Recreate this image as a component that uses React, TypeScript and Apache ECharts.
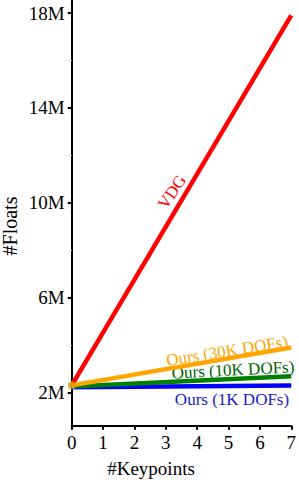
import React, { useEffect, useRef } from "react";
import * as echarts from "echarts";

const keypoints = [0, 7];
const vdg = [2.3, 17.9];
const ours30k = [2.3, 3.9];
const ours10k = [2.25, 2.68];
const ours1k = [2.22, 2.3];
const originDot = [0, 2.3];
const yTicks = [2, 6, 10, 14, 18];
const yMinorTicks = [4, 8, 12, 16];
const yMin = 0.6;
const yMax = 18.55;
const xMin = 0;
const xMax = 7;

const FONT = "'Liberation Serif', 'Times New Roman', serif";

const pairs = (ys: number[]) => keypoints.map((x, i) => [x, ys[i]]);

const txt = (
  text: string,
  x: number,
  y: number,
  size: number,
  fill: string,
  rotDeg = 0
) => ({
  type: "text",
  x,
  y,
  rotation: (rotDeg * Math.PI) / 180,
  style: {
    text,
    fontFamily: FONT,
    fontSize: size,
    fill,
    align: "center",
    verticalAlign: "middle",
  },
});

export default function App() {
  const ref = useRef<HTMLDivElement>(null);
  useEffect(() => {
    if (!ref.current) return;
    const chart = echarts.init(ref.current, null, { renderer: "svg" });
    const lineSeries = (name: string, ys: number[], color: string, z: number) => ({
      type: "line",
      name,
      data: pairs(ys),
      showSymbol: false,
      symbol: "none",
      lineStyle: { color, width: 4.5, cap: "butt" },
      z,
    });
    chart.setOption({
      animation: false,
      backgroundColor: "#ffffff",
      textStyle: { fontFamily: FONT },
      grid: { left: 71.7, right: 3.3, top: 0, bottom: 58.3, containLabel: false },
      xAxis: {
        type: "value",
        min: xMin,
        max: xMax,
        interval: 1,
        splitLine: { show: false },
        axisLine: { show: true, onZero: false, lineStyle: { color: "#000", width: 2 } },
        axisTick: { show: true, inside: false, length: 4, lineStyle: { color: "#000", width: 2 } },
        axisLabel: { color: "#000", fontFamily: FONT, fontSize: 19, margin: 7 },
      },
      yAxis: [
        {
          type: "value",
          min: yMin,
          max: yMax,
          splitLine: { show: false },
          axisLine: { show: true, onZero: false, lineStyle: { color: "#000", width: 2 } },
          axisTick: {
            show: true,
            length: 4,
            customValues: yTicks,
            lineStyle: { color: "#000", width: 2 },
          },
          axisLabel: {
            color: "#000",
            fontFamily: FONT,
            fontSize: 19,
            margin: 7,
            customValues: yTicks,
            formatter: (v: number) => `${v}M`,
          },
        },
        {
          type: "value",
          min: yMin,
          max: yMax,
          position: "left",
          splitLine: { show: false },
          axisLine: { show: false },
          axisTick: {
            show: true,
            length: 3,
            customValues: yMinorTicks,
            lineStyle: { color: "#e4e4e4", width: 1 },
          },
          axisLabel: { show: false },
        },
      ],
      series: [
        lineSeries("Ours (1K DOFs)", ours1k, "#0000ff", 2),
        lineSeries("Ours (10K DOFs)", ours10k, "#008000", 3),
        lineSeries("VDG", vdg, "#ff0000", 4),
        lineSeries("Ours (30K DOFs)", ours30k, "#ffa500", 5),
        {
          type: "scatter",
          data: [originDot],
          symbolSize: 8,
          itemStyle: { color: "#d4a214" },
          z: 6,
        },
      ],
      graphic: [
        txt("#Floats", 10, 226, 20, "#000", 90),
        txt("#Keypoints", 151, 468, 19, "#000"),
        txt("VDG", 172, 192, 17, "#ff0000", 56),
        txt("Ours (30K DOFs)", 227, 351, 17, "#ffa500", 9),
        txt("Ours (10K DOFs)", 233, 370, 17, "#006400", 3),
        txt("Ours (1K DOFs)", 232, 399, 17, "#1a1acd"),
      ],
    });
    return () => chart.dispose();
  }, []);
  return (
    <div
      ref={ref}
      style={{ position: "absolute", left: 0, top: 0, width: 299, height: 484 }}
    />
  );
}
